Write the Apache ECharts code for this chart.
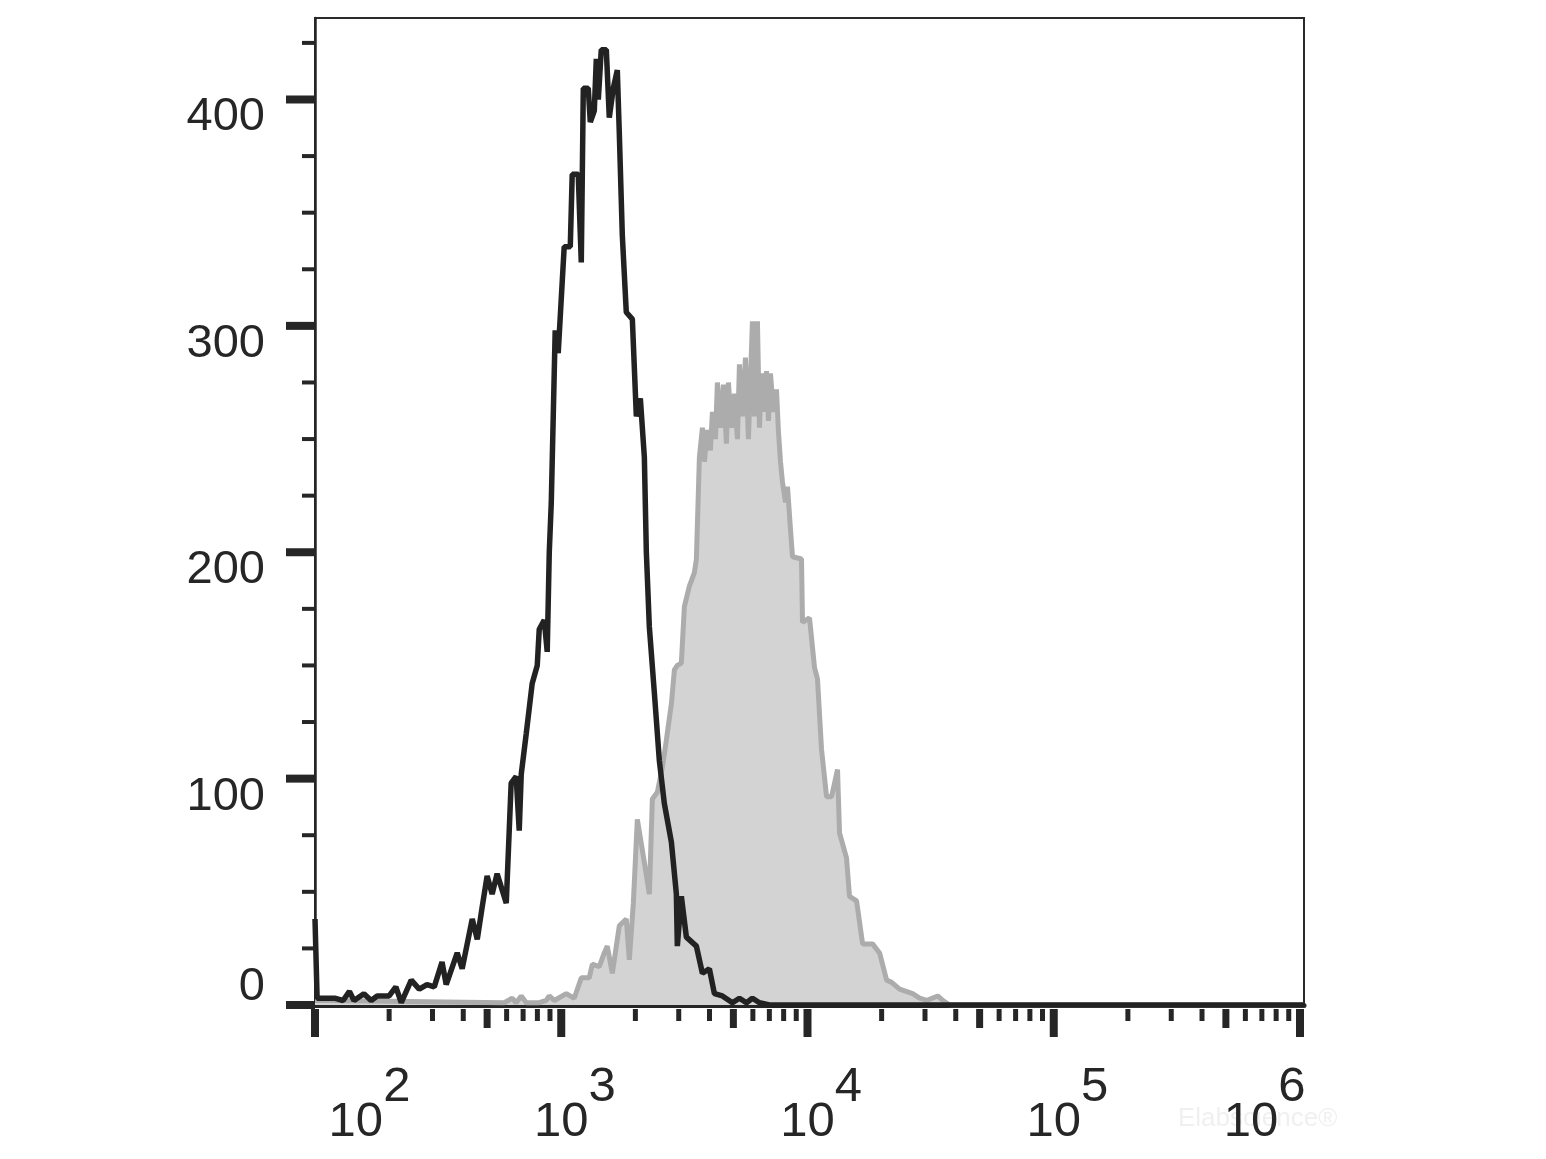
<!DOCTYPE html>
<html><head><meta charset="utf-8">
<script src="https://cdn.jsdelivr.net/npm/echarts@6/dist/echarts.min.js"></script>
<style>html,body{margin:0;padding:0;background:#fff}#c{width:1546px;height:1159px}</style>
</head><body><div id="c"></div>
<script>
// Black open histogram (control)
const blackX = [100,102,120,130,138,144,158,169,179,200,213,224,246,265,285,305,328,341,378,396,435,456,477,500,524,549,598,626,656,675,688,721,762,799,814,853,877,894,911,928,945,972,1028,1088,1108,1172,1206,1229,1287,1312,1362,1388,1414,1454,1524,1567,1627,1689,1721,1770,1837,1944,2018,2095,2175,2216,2279,2388,2502,2622,2800,2934,2961,3074,3222,3538,3743,3995,4188,4511,4956,5291,5649,5975,6381,7006,1038000];
const blackY = [38,3,3,2,6,2,5,2,4,4,8,1,11,7,9,8,19,9,23,16,38,29,43,57,49,58,45,98,101,77,102,120,142,150,166,170,156,200,222,222,298,288,335,335,367,367,328,405,405,390,395,418,400,422,422,392,405,413,385,340,306,303,260,268,242,200,167,138,108,89,72,49,26,48,30,26,14,16,5,4,1,3,1,3,1,0,0];
// Grey filled histogram (stained)
const grayX = [100,114,587,632,656,688,721,814,869,894,937,1048,1129,1206,1299,1337,1427,1495,1538,1612,1721,1837,1890,1962,2037,2175,2279,2344,2456,2574,2672,2800,2880,2961,3074,3162,3314,3473,3538,3639,3743,3814,3922,4034,4110,4227,4306,4429,4555,4685,4774,4911,5050,5194,5291,5443,5598,5757,5865,5975,6088,6262,6381,6502,6687,6813,6942,7073,7274,7482,7623,7767,7914,8140,8294,8530,8690,9454,9544,10190,10680,10980,11400,11950,12520,13240,13490,14400,14810,15820,16740,18370,19620,20950,21960,23660,26720,28530,30460,33770,35380,37780,1038000];
const grayY = [2,2,1,3,1,4,1,1,2,4,2,5,3,12,12,18,17,23,26,14,35,38,20,45,82,63,49,91,94,105,117,133,148,150,151,176,185,191,197,242,255,240,254,245,262,250,275,255,274,248,275,255,270,250,283,260,286,250,276,302,260,302,255,279,262,280,258,279,262,272,253,240,231,222,229,210,198,197,169,171,149,144,113,92,92,104,76,65,48,46,27,27,23,11,10,7,5,3,2,4,2,0,0];

// Axis ticks
const xMajorTicks = [100,1000,10000,100000,1000000];
const xMidTicks = [500,5000,50000,500000];
const xMinorTicks = [200,300,400,600,700,800,900,2000,3000,4000,6000,7000,8000,9000,20000,30000,40000,60000,70000,80000,90000,200000,300000,400000,600000,700000,800000,900000];
const yMajorTicks = [0,100,200,300,400];
const yMinorTicks = [25,50,75,125,150,175,225,250,275,325,350,375,425];
const xLabelExponents = [2,3,4,5,6];

const X_MIN = 100, X_MAX = 1038000, Y_MAX = 436;
const INK = '#262626';
const FONT = '"Liberation Sans", Arial, sans-serif';

const blackData = blackX.map((x, i) => [x, blackY[i]]);
const grayData = grayX.map((x, i) => [x, grayY[i]]);

const tickData = [];
xMajorTicks.forEach(v => tickData.push([v, 0, 0, 0]));
xMidTicks.forEach(v => tickData.push([v, 0, 0, 1]));
xMinorTicks.forEach(v => tickData.push([v, 0, 0, 2]));
yMajorTicks.forEach(v => tickData.push([X_MIN, v, 1, 0]));
yMinorTicks.forEach(v => tickData.push([X_MIN, v, 1, 1]));

function renderTick(params, api) {
  const axis = api.value(2), kind = api.value(3);
  const p = api.coord([api.value(0), api.value(1)]);
  if (axis === 0) {
    const w = [8, 7, 5][kind], len = [28, 19, 12][kind];
    return {type: 'rect', shape: {x: p[0] - w / 2, y: p[1] + 4, width: w, height: len}, style: {fill: INK}};
  }
  const h = [8, 4][kind], len = [29, 13][kind];
  return {type: 'rect', shape: {x: p[0] - len, y: p[1] - h / 2, width: len, height: h}, style: {fill: INK}};
}

const chart = echarts.init(document.getElementById('c'), null, {renderer: 'canvas'});
chart.setOption({
  animation: false,
  backgroundColor: '#ffffff',
  grid: {left: 315, top: 18, width: 989, height: 987, show: true, borderColor: '#2a2a2a', borderWidth: 2, backgroundColor: 'transparent'},
  xAxis: {
    type: 'log', logBase: 10, min: X_MIN, max: X_MAX,
    axisLine: {show: true, lineStyle: {color: INK, width: 5}},
    axisTick: {show: false}, splitLine: {show: false}, minorTick: {show: false},
    axisLabel: {
      margin: 58, color: INK, fontFamily: FONT, fontSize: 49, showMinLabel: true, showMaxLabel: true,
      formatter: function (v) {
        const lg = Math.log10(v), n = Math.round(lg);
        if (Math.abs(lg - n) > 1e-6 || xLabelExponents.indexOf(n) < 0) return '';
        let b = 'b', s = 's';
        if (n === xLabelExponents[0]) b = 'bf';
        if (n === xLabelExponents[xLabelExponents.length - 1]) { b = 'bl'; s = 'sl'; }
        return '{' + b + '|10}{' + s + '|' + n + '}';
      },
      rich: {
        b: {fontSize: 49, color: INK, fontFamily: FONT, padding: [0, 0, 0, 27]},
        bf: {fontSize: 49, color: INK, fontFamily: FONT, padding: [0, 0, 0, 109]},
        bl: {fontSize: 49, color: INK, fontFamily: FONT},
        s: {fontSize: 49, color: INK, fontFamily: FONT, padding: [0, 0, 70, 0]},
        sl: {fontSize: 49, color: INK, fontFamily: FONT, padding: [0, 71, 70, 0]}
      }
    }
  },
  yAxis: {
    type: 'value', min: 0, max: Y_MAX, interval: 100,
    axisLine: {show: true, lineStyle: {color: INK, width: 2.5}},
    axisTick: {show: false}, splitLine: {show: false},
    axisLabel: {
      margin: 50, color: INK, fontFamily: FONT, fontSize: 47,
      formatter: function (v) {
        if (yMajorTicks.indexOf(v) < 0) return '';
        return v === 0 ? '{z|0}' : '{n|' + v + '}';
      },
      rich: {
        n: {fontSize: 47, color: INK, fontFamily: FONT, padding: [36, 0, 0, 0]},
        z: {fontSize: 47, color: INK, fontFamily: FONT, padding: [0, 0, 36, 0]}
      }
    }
  },
  graphic: [{
    type: 'text', left: 1178, top: 1106,
    style: {text: 'Elabscience\u00ae', fill: '#f0f0f0', font: '26px ' + FONT}
  }],
  series: [
    {type: 'line', data: grayData, showSymbol: false, symbol: 'none', clip: false, z: 2,
     lineStyle: {color: '#acacac', width: 5}, areaStyle: {color: '#d3d3d3', opacity: 1}},
    {type: 'line', data: blackData, showSymbol: false, symbol: 'none', clip: false, z: 3,
     lineStyle: {color: '#222222', width: 5.5}},
    {type: 'custom', data: tickData, renderItem: renderTick, clip: false, silent: true, z: 4,
     encode: {x: 0, y: 1}}
  ]
});
</script></body></html>
